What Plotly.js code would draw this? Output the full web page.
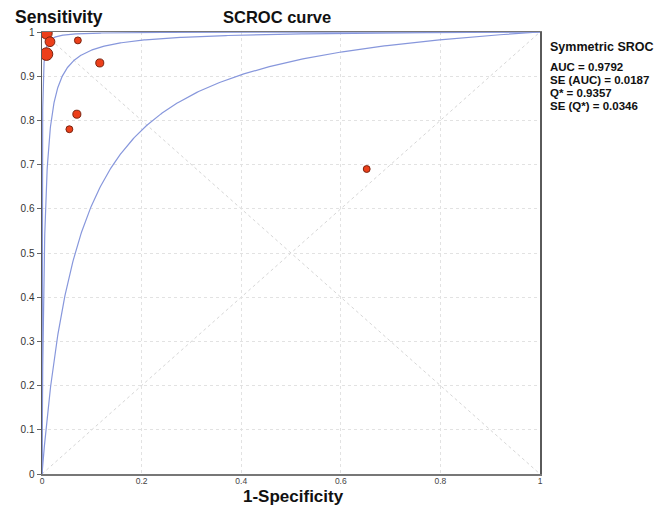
<!DOCTYPE html>
<html><head><meta charset="utf-8">
<script src="https://cdn.plot.ly/plotly-3.0.1.min.js"></script>
<style>html,body{margin:0;padding:0;background:#fff}#chart{width:672px;height:505px}</style>
</head><body><div id="chart"></div>
<script>
// Study estimates (1-Specificity, Sensitivity) and relative weights
const studyFPR  = [0.009, 0.016, 0.009, 0.072, 0.116, 0.070, 0.055, 0.652];
const studySens = [0.997, 0.978, 0.950, 0.981, 0.930, 0.814, 0.780, 0.690];
const studyWeight = [10, 8.5, 11, 6, 7, 7, 6, 6];

// Summary statistics
const statLabels = ["AUC = 0.9792", "SE (AUC) = 0.0187", "Q* = 0.9357", "SE (Q*) = 0.0346"];
const qStar = 0.9357;
// Diagnostic odds ratios of the lower and upper bound curves
const lowerDOR = 14;
const upperDOR = 3200;
const xTicks = [0, 0.2, 0.4, 0.6, 0.8, 1];
const yTicks = [0, 0.1, 0.2, 0.3, 0.4, 0.5, 0.6, 0.7, 0.8, 0.9, 1];

const fittedDOR = Math.pow(qStar / (1 - qStar), 2);
const grid = [];
for (let i = 0; i <= 400; i++) { const t = i / 400; grid.push(Math.pow(t, 3)); }
function sroc(dor) {
  return grid.map(f => f <= 0 ? 0 : (dor * f) / (1 - f + dor * f));
}
const curveColor = '#8797dc';
const traces = [lowerDOR, fittedDOR, upperDOR].map(d => ({
  x: grid, y: sroc(d), mode: 'lines', type: 'scatter',
  line: {color: curveColor, width: 1.2}, hoverinfo: 'skip', showlegend: false
}));
traces.push({
  x: studyFPR, y: studySens, mode: 'markers', type: 'scatter', showlegend: false, opacity: 1,
  marker: {size: studyWeight.map(w => w * 1.15), color: '#ec3f1a', opacity: 1, line: {color: '#7a2410', width: 1}}
});

const annFont = {family: 'Liberation Sans, Arial, sans-serif', color: '#111'};
const annotations = [
  {text: '<b>Sensitivity</b>', xref: 'paper', yref: 'paper', x: -0.058, y: 1.035, xanchor: 'left', yanchor: 'middle', showarrow: false, font: Object.assign({size: 17.5}, annFont)},
  {text: '<b>SCROC curve</b>', xref: 'paper', yref: 'paper', x: 0.472, y: 1.033, xanchor: 'center', yanchor: 'middle', showarrow: false, font: Object.assign({size: 16.5}, annFont)},
  {text: '<b>1-Specificity</b>', xref: 'paper', yref: 'paper', x: 0.506, y: -0.05, xanchor: 'center', yanchor: 'middle', showarrow: false, font: Object.assign({size: 17}, annFont)},
  {text: '<b>Symmetric SROC</b>', xref: 'paper', yref: 'paper', x: 1.016, y: 0.965, xanchor: 'left', yanchor: 'middle', showarrow: false, font: Object.assign({size: 12.5}, annFont)}
];
statLabels.forEach((s, i) => annotations.push({
  text: '<b>' + s + '</b>', xref: 'paper', yref: 'paper', x: 1.016, y: 0.92 - i * 0.029,
  xanchor: 'left', yanchor: 'middle', showarrow: false, font: Object.assign({size: 11.5}, annFont)
}));

const yTickFont = {size: 10, color: '#333', family: 'Liberation Sans, Arial, sans-serif'};
const xTickFont = {size: 8.5, color: '#444', family: 'Liberation Sans, Arial, sans-serif'};
const layout = {
  width: 672, height: 505,
  margin: {l: 42, r: 132, t: 32, b: 31},
  paper_bgcolor: '#fff', plot_bgcolor: '#fff',
  showlegend: false,
  xaxis: {range: [0, 1], tickvals: xTicks, ticktext: xTicks.map(String), showgrid: true, gridcolor: '#e2e2e2', griddash: 'dot', gridwidth: 1,
    showline: true, linecolor: '#777', linewidth: 1.5, mirror: true, zeroline: false, ticks: '', ticklabelstandoff: -2, tickfont: xTickFont},
  yaxis: {range: [0, 1], tickvals: yTicks, ticktext: yTicks.map(String), showgrid: true, gridcolor: '#e2e2e2', griddash: 'dot', gridwidth: 1,
    showline: true, linecolor: '#5a5a5a', linewidth: 1.5, mirror: true, zeroline: false, ticks: 'outside', ticklen: 4, tickcolor: '#666', tickfont: yTickFont},
  shapes: [
    {type: 'line', xref: 'x', yref: 'y', x0: 0, y0: 0, x1: 1, y1: 1, line: {color: '#d6d6d6', width: 1, dash: 'dot'}, layer: 'below'},
    {type: 'line', xref: 'x', yref: 'y', x0: 0, y0: 1, x1: 1, y1: 0, line: {color: '#d6d6d6', width: 1, dash: 'dot'}, layer: 'below'}
  ],
  annotations: annotations
};
Plotly.newPlot('chart', traces, layout, {displayModeBar: false, staticPlot: true});
</script></body></html>
